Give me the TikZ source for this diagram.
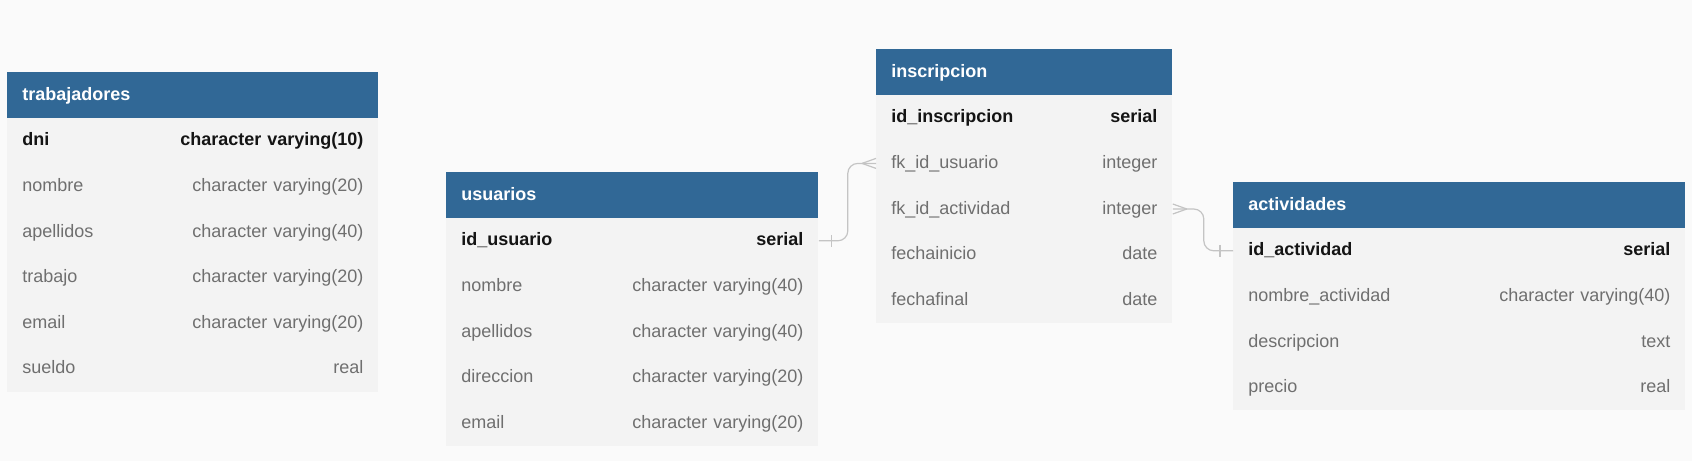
\documentclass[tikz,border=0pt]{standalone}
\usepackage{fontspec}
\setmainfont{Liberation Sans}
\usetikzlibrary{positioning}

\definecolor{hdrblue}{HTML}{316896}
\definecolor{rowgray}{HTML}{F3F3F3}
\definecolor{canvas}{HTML}{FAFAFA}
\definecolor{fieldgray}{HTML}{6F6F6F}
\definecolor{keyblack}{HTML}{141414}
\definecolor{linegray}{HTML}{C4C4C4}

\tikzstyle{head} = [rectangle, fill=hdrblue, text=white, font=\bfseries\fontsize{9}{10.8}\selectfont, inner xsep=7.5pt, inner ysep=0pt, minimum height=22.8pt, text height=7pt, text depth=2pt, anchor=north west]
\tikzstyle{key} = [rectangle, fill=rowgray, text=keyblack, font=\bfseries\fontsize{9}{10.8}\selectfont, inner xsep=7.5pt, inner ysep=0pt, minimum height=22.8pt, text height=7pt, text depth=2pt]
\tikzstyle{col} = [rectangle, fill=rowgray, text=fieldgray, font=\fontsize{9}{10.8}\selectfont, inner xsep=7.5pt, inner ysep=0pt, minimum height=22.8pt, text height=7pt, text depth=2pt]
\tikzstyle{wtrab} = [text width=170.5pt]
\tikzstyle{wusr} = [text width=171pt]
\tikzstyle{wins} = [text width=133pt]
\tikzstyle{wact} = [text width=211pt]
\tikzstyle{rel} = [draw=linegray, line width=0.6pt]

\begin{document}
\begin{tikzpicture}[node distance=22.8pt]

		\fill[canvas] (0pt,0pt) rectangle (846pt,-230.5pt);

		% trabajadores
		\node (trab) [head, wtrab] at (3.5pt,-36pt) {trabajadores};
		\node (tdni) [key, wtrab, below of=trab] {dni\hfill character varying(10)};
		\node (tnom) [col, wtrab, below of=tdni] {nombre\hfill character varying(20)};
		\node (tape) [col, wtrab, below of=tnom] {apellidos\hfill character varying(40)};
		\node (ttra) [col, wtrab, below of=tape] {trabajo\hfill character varying(20)};
		\node (tema) [col, wtrab, below of=ttra] {email\hfill character varying(20)};
		\node (tsue) [col, wtrab, below of=tema] {sueldo\hfill real};

		% usuarios
		\node (usr) [head, wusr] at (223pt,-86pt) {usuarios};
		\node (uid) [key, wusr, below of=usr] {id\_usuario\hfill serial};
		\node (unom) [col, wusr, below of=uid] {nombre\hfill character varying(40)};
		\node (uape) [col, wusr, below of=unom] {apellidos\hfill character varying(40)};
		\node (udir) [col, wusr, below of=uape] {direccion\hfill character varying(20)};
		\node (uema) [col, wusr, below of=udir] {email\hfill character varying(20)};

		% inscripcion
		\node (ins) [head, wins] at (438pt,-24.5pt) {inscripcion};
		\node (iid) [key, wins, below of=ins] {id\_inscripcion\hfill serial};
		\node (ifku) [col, wins, below of=iid] {fk\_id\_usuario\hfill integer};
		\node (ifka) [col, wins, below of=ifku] {fk\_id\_actividad\hfill integer};
		\node (iini) [col, wins, below of=ifka] {fechainicio\hfill date};
		\node (ifin) [col, wins, below of=iini] {fechafinal\hfill date};

		% actividades
		\node (act) [head, wact] at (616.5pt,-91pt) {actividades};
		\node (aid) [key, wact, below of=act] {id\_actividad\hfill serial};
		\node (anom) [col, wact, below of=aid] {nombre\_actividad\hfill character varying(40)};
		\node (ades) [col, wact, below of=anom] {descripcion\hfill text};
		\node (apre) [col, wact, below of=ades] {precio\hfill real};

		% relaciones
		\draw [rel, rounded corners=5pt] (uid.east) -- ++(14.5pt,0) |- (ifku.west);
		\draw [rel] ([xshift=6.5pt,yshift=3pt]uid.east) -- ([xshift=6.5pt,yshift=-3pt]uid.east);
		\draw [rel] ([xshift=-7pt]ifku.west) -- ([yshift=2.5pt]ifku.west);
		\draw [rel] ([xshift=-7pt]ifku.west) -- ([yshift=-2.5pt]ifku.west);

		\draw [rel, rounded corners=5pt] (ifka.east) -- ++(15.5pt,0) |- (aid.west);
		\draw [rel] ([xshift=-6.5pt,yshift=3pt]aid.west) -- ([xshift=-6.5pt,yshift=-3pt]aid.west);
		\draw [rel] ([xshift=7pt]ifka.east) -- ([yshift=2.5pt]ifka.east);
		\draw [rel] ([xshift=7pt]ifka.east) -- ([yshift=-2.5pt]ifka.east);
		\end{tikzpicture}
\end{document}
